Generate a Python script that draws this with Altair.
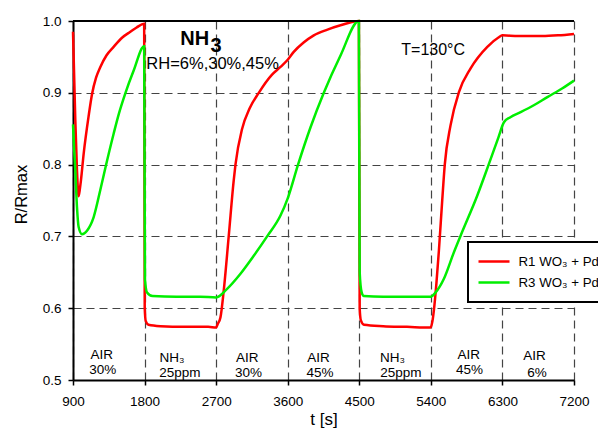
import altair as alt
import pandas as pd

FONT = "Liberation Sans"

# ---- data ----
r1_t = [900, 929, 950, 965, 971, 985, 1000, 1034, 1097, 1139, 1190, 1244, 1320, 1411, 1520, 1621, 1700, 1795,
        1802, 1815, 1850, 2000, 2300, 2600, 2700, 2720, 2754, 2795, 2858, 2921, 2943, 3027, 3120, 3236,
        3400, 3509, 3600, 3676, 3800, 3928, 4100, 4264, 4495,
        4505, 4520, 4560, 4800, 5100, 5397, 5420, 5438, 5470, 5501, 5544, 5575, 5648, 5753, 5900, 6110,
        6250, 6300, 6500, 6800, 7000, 7200]
r1_v = [0.985, 0.862, 0.792, 0.760, 0.756, 0.765, 0.778, 0.815, 0.868, 0.898, 0.921, 0.936, 0.952, 0.964, 0.977,
        0.985, 0.991, 0.996,
        0.600, 0.582, 0.577, 0.575, 0.574, 0.574, 0.573, 0.578, 0.587, 0.624, 0.700, 0.778, 0.800, 0.850,
        0.878, 0.900, 0.925, 0.936, 0.946, 0.957, 0.970, 0.980, 0.988, 0.994, 1.000,
        0.600, 0.583, 0.577, 0.575, 0.574, 0.573, 0.582, 0.597, 0.635, 0.680, 0.752, 0.800, 0.855, 0.901,
        0.934, 0.964, 0.977, 0.980, 0.979, 0.979, 0.980, 0.982]

r3_t = [900, 915, 929, 950, 971, 1013, 1076, 1160, 1244, 1306, 1411, 1480, 1560, 1663, 1795,
        1805, 1831, 1900, 2200, 2500, 2700, 2838, 3006, 3173, 3341, 3509, 3600, 3730, 3887, 4054, 4264, 4495,
        4505, 4530, 4557, 4800, 5100, 5397, 5460, 5564, 5690, 5774, 5984, 6130, 6250, 6319, 6400, 6529,
        6700, 6865, 7050, 7200]
r3_v = [0.856, 0.820, 0.792, 0.741, 0.713, 0.703, 0.708, 0.727, 0.765, 0.795, 0.843, 0.872, 0.900, 0.931, 0.965,
        0.640, 0.622, 0.617, 0.616, 0.616, 0.615, 0.627, 0.648, 0.673, 0.700, 0.729, 0.753, 0.800, 0.852,
        0.900, 0.952, 1.000,
        0.650, 0.622, 0.617, 0.616, 0.616, 0.616, 0.622, 0.641, 0.678, 0.701, 0.757, 0.801, 0.838, 0.859,
        0.866, 0.873, 0.883, 0.894, 0.906, 0.917]

series_names = ["R1 WO\u2083 + Pd", "R3 WO\u2083 + Pd"]
series_colors = ["#ff0000", "#00ee00"]

x_ticks = [900, 1800, 2700, 3600, 4500, 5400, 6300, 7200]
y_ticks = [0.5, 0.6, 0.7, 0.8, 0.9, 1.0]

# bottom phase labels (two lines each)
phase_line1 = ["AIR", "NH\u2083", "AIR", "AIR", "NH\u2083", "AIR", "AIR"]
phase_line1_t = [1260, 2146, 3090, 3987, 4918, 5875, 6703]
phase_line1_v = [0.5347, 0.5303, 0.5303, 0.5303, 0.5303, 0.5343, 0.5330]
phase_line2 = ["30%", "25ppm", "30%", "45%", "25ppm", "45%", "6%"]
phase_line2_t = [1275, 2244, 3106, 4006, 5023, 5885, 6734]
phase_line2_v = [0.5135, 0.5093, 0.5093, 0.5093, 0.5093, 0.5135, 0.5103]

df = pd.concat([
    pd.DataFrame({"t": r1_t, "v": r1_v, "series": series_names[0], "o": range(len(r1_t))}),
    pd.DataFrame({"t": r3_t, "v": r3_v, "series": series_names[1], "o": range(len(r3_t))}),
])

xscale = alt.Scale(domain=[900, 7200], nice=False, zero=False)
yscale = alt.Scale(domain=[0.5, 1.0], nice=False, zero=False)

lines = alt.Chart(df).mark_line(strokeWidth=2.5, interpolate="monotone").encode(
    x=alt.X("t:Q", scale=xscale,
            axis=alt.Axis(values=x_ticks, format="d", title="t [s]", titleFontSize=17,
                          titleY=31, titleBaseline="top", labelPadding=9, labelFlush=False)),
    y=alt.Y("v:Q", scale=yscale,
            axis=alt.Axis(values=y_ticks, format=".1f", title="R/Rmax", titleFontSize=16.5,
                          titleX=-47, titleY=173, titleBaseline="alphabetic", labelPadding=7,
                          labelFlush=False)),
    color=alt.Color("series:N", scale=alt.Scale(domain=series_names, range=series_colors),
                    legend=alt.Legend(title=None, orient="none", legendX=395, legendY=221,
                                      symbolType="stroke", symbolSize=961, symbolStrokeWidth=2.5,
                                      symbolOffset=0, clipHeight=21,
                                      labelFontSize=13.3, labelOffset=7.5, labelLimit=0,
                                      rowPadding=0, padding=9,
                                      strokeColor="black", fillColor="white")),
    order="o:Q",
)

top_border = alt.Chart(pd.DataFrame({"y": [1.0]})).mark_rule(color="black", strokeWidth=2).encode(
    y=alt.Y("y:Q", scale=yscale)
)

ph1 = alt.Chart(pd.DataFrame({"t": phase_line1_t, "v": phase_line1_v, "s": phase_line1})).mark_text(
    font=FONT, fontSize=13.5, align="center", baseline="middle", color="black"
).encode(x=alt.X("t:Q", scale=xscale), y=alt.Y("v:Q", scale=yscale), text="s:N")

ph2 = alt.Chart(pd.DataFrame({"t": phase_line2_t, "v": phase_line2_v, "s": phase_line2})).mark_text(
    font=FONT, fontSize=13.5, align="center", baseline="middle", color="black"
).encode(x=alt.X("t:Q", scale=xscale), y=alt.Y("v:Q", scale=yscale), text="s:N")

title_nh = alt.Chart(pd.DataFrame({"t": [2250], "v": [0.9661], "s": ["NH"]})).mark_text(
    font=FONT, fontSize=20, fontWeight="bold", align="left", baseline="alphabetic", color="black"
).encode(x=alt.X("t:Q", scale=xscale), y=alt.Y("v:Q", scale=yscale), text="s:N")

title_3 = alt.Chart(pd.DataFrame({"t": [2628], "v": [0.9563], "s": ["3"]})).mark_text(
    font=FONT, fontSize=20, fontWeight="bold", align="left", baseline="alphabetic", color="black"
).encode(x=alt.X("t:Q", scale=xscale), y=alt.Y("v:Q", scale=yscale), text="s:N")

rh = alt.Chart(pd.DataFrame({"t": [1822], "v": [0.9326], "s": ["RH=6%,30%,45%"]})).mark_text(
    font=FONT, fontSize=16.5, align="left", baseline="alphabetic", color="black"
).encode(x=alt.X("t:Q", scale=xscale), y=alt.Y("v:Q", scale=yscale), text="s:N")

temp = alt.Chart(pd.DataFrame({"t": [5028], "v": [0.9522], "s": ["T=130°C"]})).mark_text(
    font=FONT, fontSize=16, align="left", baseline="alphabetic", color="black"
).encode(x=alt.X("t:Q", scale=xscale), y=alt.Y("v:Q", scale=yscale), text="s:N")

chart = alt.layer(lines, top_border, ph1, ph2, title_nh, title_3, rh, temp).properties(
    width=501, height=359,
    autosize=alt.AutoSizeParams(type="none"),
    padding={"left": 65, "top": 13, "right": 24, "bottom": 49},
    background="white",
).configure_view(stroke=None).configure_axis(
    domainColor="black", domainWidth=2, tickColor="black", tickWidth=1.5, tickSize=5,
    labelFont=FONT, labelFontSize=13.5, labelColor="black",
    titleFont=FONT, titleColor="black", titleFontWeight="normal",
    grid=True, gridColor="#444444", gridDash=[8, 5], gridWidth=1.2,
).configure_legend(
    labelFont=FONT, labelColor="black", strokeWidth=2,
).configure_text(font=FONT)

chart.save("out.html", embed_options={"renderer": "svg", "actions": False})
